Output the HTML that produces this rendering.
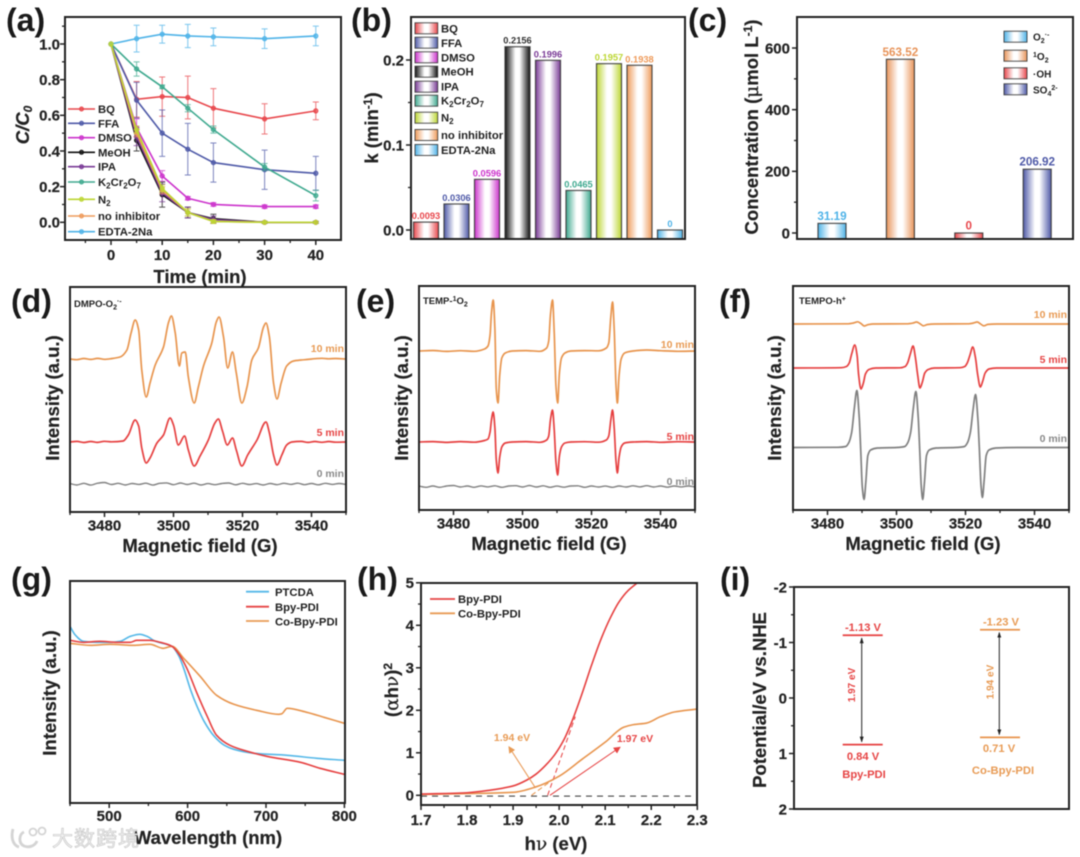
<!DOCTYPE html>
<html lang="en">
<head>
<meta charset="utf-8">
<title>Photocatalysis figure panels a-i</title>
<style>
html,body{margin:0;padding:0;background:#fff}
#figure{display:block;filter:blur(0.45px)}
text{font-family:"Liberation Sans","Noto Sans CJK SC",sans-serif;font-weight:bold;fill:#222}
.pl{font-size:32px;fill:#1a1a1a}
.at{font-size:18.5px;stroke:#222;stroke-width:.2}
.tk{font-size:15px;stroke:#222;stroke-width:.2}
.lg{font-size:11.3px}
.ep{font-size:10.5px}
.bv{font-size:9.3px}
.cv{font-size:11.7px}
.it{font-size:9.5px}
.en{font-size:11.3px}
.sym{font-family:"DejaVu Serif","Liberation Serif",serif;font-weight:normal}
</style>
</head>
<body>
<svg id="figure" xmlns="http://www.w3.org/2000/svg" width="1080" height="857" viewBox="0 0 1080 857">
<defs id="defs">
<marker id="ah-k" markerWidth="6" markerHeight="6" refX="5" refY="3" orient="auto"><path d="M0,1 L6,3 L0,5 Z" fill="#222"/></marker>
<marker id="ah-k-rev" markerWidth="6" markerHeight="6" refX="1" refY="3" orient="auto"><path d="M6,1 L0,3 L6,5 Z" fill="#222"/></marker>
<marker id="ah-o" markerWidth="7" markerHeight="7" refX="6" refY="3.5" orient="auto"><path d="M0,0 L7,3.5 L0,7 Z" fill="#e89b55"/></marker>
<marker id="ah-r" markerWidth="7" markerHeight="7" refX="6" refY="3.5" orient="auto"><path d="M0,0 L7,3.5 L0,7 Z" fill="#e64545"/></marker>
</defs>
<rect width="1080" height="857" fill="#fff"/>

<!-- Panel a -->
<g id="pa">
<text class="pl" x="6" y="31">(a)</text>
<text class="at" transform="translate(29,125) rotate(-90)" text-anchor="middle" font-style="italic">C/C<tspan dy="3" font-size="12">0</tspan></text>
<text class="at" x="200" y="283" text-anchor="middle">Time (min)</text>
</g>
<g id="pa-legend">
<text class="lg" x="98" y="113">BQ</text>
<text class="lg" x="98" y="127.3">FFA</text>
<text class="lg" x="98" y="141.7">DMSO</text>
<text class="lg" x="98" y="156.3">MeOH</text>
<text class="lg" x="98" y="170.7">IPA</text>
<text class="lg" x="98" y="186">K<tspan dy="2.5" font-size="8">2</tspan><tspan dy="-2.5">Cr</tspan><tspan dy="2.5" font-size="8">2</tspan><tspan dy="-2.5">O</tspan><tspan dy="2.5" font-size="8">7</tspan></text>
<text class="lg" x="98" y="203.3">N<tspan dy="2.5" font-size="8">2</tspan></text>
<text class="lg" x="98" y="220">no inhibitor</text>
<text class="lg" x="98" y="235.7">EDTA-2Na</text>
</g>

<!-- Panel b -->
<g id="pb">
<text class="pl" x="351" y="31">(b)</text>
<text class="at" transform="translate(378,128) rotate(-90)" text-anchor="middle">k (min<tspan dy="-6" font-size="12">-1</tspan><tspan dy="6">)</tspan></text>
</g>
<g id="pb-legend">
<text class="lg" x="441" y="32.5">BQ</text>
<text class="lg" x="441" y="47">FFA</text>
<text class="lg" x="441" y="61.3">DMSO</text>
<text class="lg" x="441" y="75.7">MeOH</text>
<text class="lg" x="441" y="90.7">IPA</text>
<text class="lg" x="441" y="104.7">K<tspan dy="2.5" font-size="8">2</tspan><tspan dy="-2.5">Cr</tspan><tspan dy="2.5" font-size="8">2</tspan><tspan dy="-2.5">O</tspan><tspan dy="2.5" font-size="8">7</tspan></text>
<text class="lg" x="441" y="121.7">N<tspan dy="2.5" font-size="8">2</tspan></text>
<text class="lg" x="441" y="139">no inhibitor</text>
<text class="lg" x="441" y="154">EDTA-2Na</text>
</g>

<!-- Panel c -->
<g id="pc">
<text class="pl" x="688" y="31">(c)</text>
<text class="at" transform="translate(758,127) rotate(-90)" text-anchor="middle">Concentration (<tspan class="sym">μ</tspan>mol L<tspan dy="-6" font-size="12">-1</tspan><tspan dy="6">)</tspan></text>
</g>
<g id="pc-legend">
<text font-size="10" x="1033" y="40.5">O<tspan dy="2.5" font-size="7">2</tspan><tspan dy="-6" font-size="7">·-</tspan></text>
<text font-size="10" x="1033" y="60"><tspan dy="-3" font-size="7">1</tspan><tspan dy="3">O</tspan><tspan dy="2.5" font-size="7">2</tspan></text>
<text font-size="10" x="1033" y="77.5">·OH</text>
<text font-size="10" x="1033" y="93.5">SO<tspan dy="2.5" font-size="7">4</tspan><tspan dy="-6" font-size="7">2-</tspan></text>
</g>

<!-- Panel d -->
<g id="pd">
<text class="pl" x="11" y="312">(d)</text>
<text class="at" transform="translate(59,398) rotate(-90)" text-anchor="middle">Intensity (a.u.)</text>
<text class="at" x="200" y="552" text-anchor="middle">Magnetic field (G)</text>
<text class="it" x="74" y="307">DMPO-O<tspan dy="2.5" font-size="7">2</tspan><tspan dy="-6" font-size="7">·-</tspan></text>
<text class="ep" x="344" y="352" text-anchor="end" style="fill:#e89b55">10 min</text>
<text class="ep" x="344" y="436" text-anchor="end" style="fill:#e64545">5 min</text>
<text class="ep" x="344" y="477" text-anchor="end" style="fill:#8a8a8a">0 min</text>
</g>

<!-- Panel e -->
<g id="pe">
<text class="pl" x="356" y="312">(e)</text>
<text class="at" transform="translate(408,398) rotate(-90)" text-anchor="middle">Intensity (a.u.)</text>
<text class="at" x="549" y="550" text-anchor="middle">Magnetic field (G)</text>
<text class="it" x="423" y="304">TEMP-<tspan dy="-3" font-size="7">1</tspan><tspan dy="3">O</tspan><tspan dy="2.5" font-size="7">2</tspan></text>
<text class="ep" x="694" y="348" text-anchor="end" style="fill:#e89b55">10 min</text>
<text class="ep" x="694" y="440" text-anchor="end" style="fill:#e64545">5 min</text>
<text class="ep" x="694" y="485" text-anchor="end" style="fill:#8a8a8a">0 min</text>
</g>

<!-- Panel f -->
<g id="pf">
<text class="pl" x="719" y="312">(f)</text>
<text class="at" transform="translate(781,398) rotate(-90)" text-anchor="middle">Intensity (a.u.)</text>
<text class="at" x="923" y="550" text-anchor="middle">Magnetic field (G)</text>
<text class="it" x="799" y="304">TEMPO-h<tspan dy="-3" font-size="7">+</tspan></text>
<text class="ep" x="1067" y="318" text-anchor="end" style="fill:#e89b55">10 min</text>
<text class="ep" x="1067" y="363" text-anchor="end" style="fill:#e64545">5 min</text>
<text class="ep" x="1067" y="442" text-anchor="end" style="fill:#8a8a8a">0 min</text>
</g>

<!-- Panel g -->
<g id="pg">
<text class="pl" x="11" y="590">(g)</text>
<text class="at" transform="translate(56,693) rotate(-90)" text-anchor="middle">Intensity (a.u.)</text>
<text class="at" x="208" y="844" text-anchor="middle">Wavelength (nm)</text>
<line x1="246" y1="591.7" x2="269" y2="591.7" stroke="#55b8e8" stroke-width="1.8"/>
<line x1="246" y1="606.7" x2="269" y2="606.7" stroke="#e64545" stroke-width="1.8"/>
<line x1="246" y1="621" x2="269" y2="621" stroke="#e89b55" stroke-width="1.8"/>
<text class="en" x="275" y="596">PTCDA</text>
<text class="en" x="275" y="611">Bpy-PDI</text>
<text class="en" x="275" y="625.5">Co-Bpy-PDI</text>
</g>

<!-- Panel h -->
<g id="ph">
<text class="pl" x="357" y="590">(h)</text>
<text class="at" transform="translate(398,690) rotate(-90)" text-anchor="middle">(<tspan class="sym">α</tspan>h<tspan class="sym">ν</tspan>)<tspan dy="-6" font-size="12">2</tspan></text>
<text class="at" x="556" y="850" text-anchor="middle">h<tspan class="sym">ν</tspan> (eV)</text>
<line x1="430" y1="599" x2="455" y2="599" stroke="#e64545" stroke-width="1.8"/>
<line x1="430" y1="613.3" x2="455" y2="613.3" stroke="#e89b55" stroke-width="1.8"/>
<text class="en" x="458" y="603">Bpy-PDI</text>
<text class="en" x="458" y="617.5">Co-Bpy-PDI</text>
<text font-size="10.5" x="512" y="741" text-anchor="middle" style="fill:#e89b55">1.94 eV</text>
<text font-size="10.5" x="635" y="742" text-anchor="middle" style="fill:#e64545">1.97 eV</text>
</g>

<!-- Panel i -->
<g id="pi">
<text class="pl" x="720" y="590">(i)</text>
<text class="at" transform="translate(766,700) rotate(-90)" text-anchor="middle">Potential/eV vs.NHE</text>
<text font-size="11.2" x="863" y="631" text-anchor="middle" style="fill:#e64545">-1.13 V</text>
<text font-size="11.2" x="863" y="760" text-anchor="middle" style="fill:#e64545">0.84 V</text>
<text font-size="11.2" x="864" y="778" text-anchor="middle" style="fill:#e64545">Bpy-PDI</text>
<text font-size="11.2" x="1001" y="625.5" text-anchor="middle" style="fill:#e89b55">-1.23 V</text>
<text font-size="11.2" x="999" y="752" text-anchor="middle" style="fill:#e89b55">0.71 V</text>
<text font-size="11.2" x="1003" y="774" text-anchor="middle" style="fill:#e89b55">Co-Bpy-PDI</text>
<text font-size="10" transform="translate(855,685) rotate(-90)" text-anchor="middle" style="fill:#e64545">1.97 eV</text>
<text font-size="10" transform="translate(993.5,682) rotate(-90)" text-anchor="middle" style="fill:#e89b55">1.94 eV</text>
</g>

<!-- Watermark -->
<g>
<path d="M13,829 C11,836 12,845 19,847 M24,832 C19,834 18,843 24,846 C29,848 35,846 37,841" fill="none" stroke="#d4d4d4" stroke-width="2.8"/>
<circle cx="33" cy="832" r="3.5" fill="none" stroke="#d4d4d4" stroke-width="1.8"/>
<circle cx="42" cy="831" r="3.5" fill="none" stroke="#d4d4d4" stroke-width="1.8"/>
<text x="52" y="846" font-size="21" letter-spacing="1" style="fill:#f2f2f2;font-weight:normal;font-family:'Liberation Sans','Noto Sans CJK SC',sans-serif" stroke="#c4c4c4" stroke-width="0.6">大数跨境</text>
</g>
</svg>

<script>
// ---------- Panel a data ----------
const aTimes = [0, 5, 10, 15, 20, 30, 40];
const aNames = ['bq','ffa','dmso','meoh','ipa','k2cr2o7','no-inhibitor','edta','n2'];
const aBQ   = [1, .69, .705, .70, .64, .58, .625];
const aFFA  = [1, .685, .5, .41, .335, .295, .275];
const aDMSO = [1, .53, .26, .135, .10, .088, .088];
const aMeOH = [1, .46, .155, .055, .02, 0, 0];
const aIPA  = [1, .48, .165, .055, .015, 0, 0];
const aK2   = [1, .86, .76, .64, .52, .31, .15];
const aNone = [1, .50, .18, .055, .005, 0, 0];
const aEDTA = [1, 1.03, 1.055, 1.045, 1.04, 1.03, 1.045];
const aN2   = [1, .52, .19, .055, .005, 0, 0];
const aErrBQ   = [0, .10, .11, .12, .11, .085, .05];
const aErrFFA  = [0, .10, .13, .145, .11, .11, .095];
const aErrDMSO = [0, .05, .03, .01, .01, .01, .01];
const aErrMeOH = [0, .06, .07, .03, .025, .005, .005];
const aErrIPA  = [0, .05, .05, .03, .02, 0, 0];
const aErrK2   = [0, .04, .01, .02, .02, .02, .03];
const aErrNone = [0, .02, .02, .02, .01, 0, 0];
const aErrEDTA = [0, .075, .05, .065, .05, .055, .055];
const aErrN2   = [0, .02, .02, .02, .01, 0, 0];
const aXTicks = [0, 10, 20, 30, 40];
const aXMinor = [-5, 5, 15, 25, 35];
const aYTicks = [0, .2, .4, .6, .8, 1];
const aYMinor = [.1, .3, .5, .7, .9, 1.1];
const aYLabels = ['0.0', '0.2', '0.4', '0.6', '0.8', '1.0'];

// ---------- Panel b data ----------
const bValues = [.0093, .0306, .0596, .2156, .1996, .0465, .1957, .1938, 0];
const bLabels = ['0.0093','0.0306','0.0596','0.2156','0.1996','0.0465','0.1957','0.1938','0'];
const bSeries = ['bq','ffa','dmso','meoh','ipa','k2cr2o7','n2','no-inhibitor','edta'];
const bYTicks = [0, .1, .2];
const bYMinor = [.05, .15];
const bYLabels = ['0.0', '0.1', '0.2'];

// ---------- Panel c data ----------
const cValues = [31.19, 563.52, 0, 206.92];
const cLabels = ['31.19', '563.52', '0', '206.92'];
const cSeries = ['superoxide', 'singlet-oxygen', 'hydroxyl', 'sulfate'];
const cYTicks = [0, 200, 400, 600];
const cYMinor = [100, 300, 500];

// ---------- EPR data ----------
const eprTicks = [3480, 3500, 3520, 3540];
const eprMinor = [3470, 3490, 3510, 3530, 3550];
const d10 = [[3470,0],[3472,-.7],[3474,.5],[3476,-.4],[3478,.6],[3480,-.3],[3482,.4],[3484.5,2],[3486.5,9],[3487.7,26],[3488.9,39],[3489.9,29],[3490.8,-11],[3492.1,-38],[3493.2,-24],[3494.7,-6],[3497.1,12],[3498.6,37],[3499.4,43],[3500.5,26],[3501.7,-7],[3502.4,6],[3503.4,7],[3504.3,-18],[3506,-44],[3507.2,-28],[3508.7,-7],[3511.1,16],[3512.4,37],[3513.2,42],[3514.5,22],[3515.7,-9],[3517.1,7],[3518.2,-14],[3519.8,-44],[3521.3,-28],[3522.7,-1],[3524.6,11],[3526.1,32],[3526.8,36],[3527.8,22],[3529,-24],[3530,-40],[3531.2,-24],[3532.8,-7],[3534.8,-2],[3537,-1],[3539,-.4],[3541,.3],[3543,.7],[3545,.2],[3547,.5],[3549.8,0]];
const d5 = [[3470,0],[3472,.6],[3474,-.5],[3476,.5],[3478,-.4],[3480,.7],[3482,.2],[3485.4,1],[3486.9,7],[3488.9,22],[3489.9,16],[3490.8,-6],[3492.1,-21],[3493.2,-16],[3495.2,-1],[3497.1,7],[3499,24],[3500,17],[3501.4,-3],[3503.2,6],[3504.3,-8],[3506,-24],[3507.7,-14],[3510.1,2],[3512,19],[3513,23],[3514.2,11],[3515.6,-3],[3517.1,4],[3518.2,-8],[3519.8,-24],[3521.5,-13],[3524.2,2],[3526.8,20],[3527.8,9],[3529,-13],[3530,-23],[3531.4,-13],[3532.8,-3],[3534.3,0],[3537,.6],[3539,-.4],[3541,.5],[3543,-.3],[3545,.5],[3547,-.2],[3549.8,0]];
const d0 = [[3470,.5],[3472,-1],[3474,.7],[3476,-1.1],[3478,.8],[3480,1.5],[3482,-.5],[3484,.7],[3486,-1],[3488,.5],[3490,-.4],[3492,.8],[3494,-1.1],[3496,.7],[3498,1.1],[3500,-.7],[3502,1],[3504,-.5],[3506,.8],[3508,-1],[3510,.4],[3512,-.7],[3514,.5],[3516,1],[3518,-.8],[3520,.7],[3522,-.5],[3524,.4],[3526,-1],[3528,.5],[3530,-.7],[3532,.7],[3534,-.4],[3536,.8],[3538,-.7],[3540,.5],[3542,-.8],[3544,.7],[3546,-.4],[3548,.5],[3550,-.5]];
const e10 = [[3470,0],[3474,.5],[3478,-.4],[3482,.3],[3486,-.3],[3489,2],[3490,5],[3490.6,16],[3491,38],[3491.5,51],[3492,22],[3492.4,-38],[3492.9,-52],[3493.4,-24],[3494,-7],[3495,-2],[3497,0],[3501,.4],[3505,-.3],[3507,3],[3507.6,10],[3508.1,36],[3508.7,51],[3509.2,18],[3509.7,-35],[3510.2,-52],[3510.7,-22],[3511.3,-7],[3512.3,-2],[3514,0],[3518,.4],[3522,.2],[3524.3,3],[3525,8],[3525.6,34],[3526.1,49],[3526.6,20],[3527.1,-34],[3527.5,-52],[3528,-24],[3528.6,-8],[3529.6,-2],[3532,0],[3536,1],[3540,.3],[3545,-.3],[3550,0]];
const e5 = [[3470,0],[3474,.4],[3478,-.4],[3482,.4],[3486,-.2],[3489,1.5],[3490,3],[3490.6,10],[3491,22],[3491.5,30],[3492,14],[3492.4,-18],[3492.9,-31],[3493.4,-15],[3494,-5],[3495,-1],[3497,0],[3501,.4],[3505,-.3],[3507,2],[3507.6,6],[3508.1,22],[3508.7,32],[3509.2,12],[3509.7,-20],[3510.2,-33],[3510.7,-14],[3511.3,-5],[3512.3,-1],[3514,0],[3518,.3],[3522,-.2],[3524.3,2],[3525,6],[3525.6,22],[3526.1,32],[3526.6,13],[3527.1,-19],[3527.5,-31],[3528,-15],[3528.6,-5],[3529.6,-1],[3532,0],[3536,.4],[3540,-.3],[3545,.3],[3550,0]];
const e0 = [[3470,.4],[3472,-.8],[3474,.5],[3476,-.8],[3478,.5],[3480,1],[3482,-.5],[3484,.5],[3486,-.8],[3488,.6],[3490,-.4],[3492,.7],[3494,-.8],[3496,.5],[3498,.8],[3500,-.5],[3502,1],[3504,-.5],[3506,.7],[3508,-.8],[3510,.4],[3512,-.7],[3514,.5],[3516,.7],[3518,-.8],[3520,.5],[3522,-.5],[3524,.4],[3526,-.8],[3528,.5],[3530,-.5],[3532,.7],[3534,-.4],[3536,.8],[3538,-.5],[3540,.5],[3542,-.7],[3544,.5],[3546,-.4],[3548,.5],[3550,-.4]];
const f0 = [[3470,0],[3483,.2],[3485.3,1],[3486.2,5],[3487,15],[3487.8,40],[3488.5,57],[3489.2,30],[3489.6,0],[3490.1,-40],[3490.6,-52],[3491.1,-35],[3491.7,-8],[3492.5,-2.5],[3494.5,-.5],[3500,0],[3502.4,1],[3503.3,5],[3504.1,15],[3504.9,40],[3505.6,56],[3506.3,30],[3506.7,0],[3507.2,-40],[3507.6,-52],[3508.1,-35],[3508.7,-8],[3509.5,-2.5],[3511.5,-.5],[3517,0],[3519.7,1],[3520.6,5],[3521.4,15],[3522.2,38],[3522.9,53],[3523.6,28],[3524,0],[3524.5,-38],[3524.9,-50],[3525.4,-33],[3526,-8],[3526.8,-2.5],[3528.8,-.5],[3535,0],[3550,0]];
const f5 = [[3470,0],[3484,.3],[3485.5,1.5],[3486.3,5],[3487,14],[3487.9,23],[3488.6,12],[3489,-6],[3489.7,-21],[3490.4,-15],[3491,-6],[3492,-1.5],[3494,0],[3501,.2],[3502.5,1.5],[3503.2,5],[3504,14],[3504.8,22],[3505.5,10],[3506.1,-6],[3506.8,-20],[3507.5,-14],[3508.2,-5],[3509.2,-1.5],[3511,0],[3518.5,.3],[3519.8,1.5],[3520.5,5],[3521.3,13],[3522.1,21],[3522.9,10],[3523.5,-6],[3524.3,-19],[3525,-13],[3525.7,-5],[3526.8,-1],[3529,0],[3550,0]];
const f10 = [[3470,0],[3486,.2],[3487.5,1],[3488.8,2.2],[3489.7,.5],[3490.7,-2],[3491.6,-.8],[3493,0],[3503,.2],[3504.8,1],[3505.8,2],[3506.8,.3],[3507.8,-1.8],[3509,-.5],[3511,0],[3521,.2],[3522.3,1],[3523.4,2],[3524.3,.2],[3525.3,-1.8],[3526.5,-.4],[3529,0],[3550,0]];
const dOffsets = [153, 70, 28];
const eOffsets = [159, 68, 23.5];
const fOffsets = [186, 142, 62.5];

// ---------- Panel g data ----------
const gPTCDA = [[450,177],[456,169],[467,162],[484,161],[501,161],[514,162],[527,167],[539,169],[548,167],[559,162],[580,157],[589,147],[595,135],[604,113],[612,97],[621,82],[634,67],[647,58],[659,54],[685,50],[727,48],[765,45],[800,43]];
const gBpy = [[450,163],[467,161],[488,162],[510,161],[527,161],[535,163],[552,163],[565,161],[580,157],[590,148],[599,135],[612,110],[625,87],[637,68],[654,58],[676,52],[701,47],[744,41],[769,35],[800,29]];
const gCo = [[450,160],[476,158],[501,159],[531,158],[552,159],[569,155],[580,157],[595,145],[616,127],[637,108],[659,99],[688,93],[716,89],[720,89.5],[727,95],[752,91],[774,86],[800,80]];
const gXTicks = [500, 600, 700, 800];
const gXMinor = [450, 550, 650, 750];

// ---------- Panel h data ----------
const hBpy = [[1.7,.03],[1.8,.06],[1.85,.12],[1.9,.22],[1.93,.36],[1.95,.5],[1.97,.7],[1.99,.95],[2.01,1.3],[2.03,1.8],[2.05,2.4],[2.07,3.05],[2.09,3.65],[2.11,4.15],[2.13,4.55],[2.15,4.82],[2.17,5]];
const hCo = [[1.7,.02],[1.8,.04],[1.9,.07],[1.95,.2],[2,.45],[2.05,.85],[2.1,1.25],[2.14,1.6],[2.16,1.66],[2.19,1.7],[2.22,1.85],[2.25,1.96],[2.3,2.03]];
const hXTicks = [1.7, 1.8, 1.9, 2, 2.1, 2.2, 2.3];
const hXLabels = ['1.7','1.8','1.9','2.0','2.1','2.2','2.3'];
const hXMinor = [1.75, 1.85, 1.95, 2.05, 2.15, 2.25];
const hYTicks = [0, 1, 2, 3, 4, 5];
const hYMinor = [.5, 1.5, 2.5, 3.5, 4.5];
const hBgBpy = [1.975, 2.035];
const hBgBpyVal = [0, 1.85];
const hBgCo = [1.94, 1.99];
const hBgCoVal = [0, .4];

// ---------- Panel i data ----------
const iYTicks = [-2, -1, 0, 1, 2];
const iYMinor = [-1.5, -.5, .5, 1.5];
const iBpyLevels = [-1.13, .84];
const iCoLevels = [-1.23, .71];

// ---------- Colours ----------
const seriesColor = {bq:'#e8474c',ffa:'#4f5aa8',dmso:'#cc33cc',meoh:'#111111',ipa:'#7a3b96','k2cr2o7':'#3fa98f',n2:'#bcd633','no-inhibitor':'#ee9a5a',edta:'#4fb3e8',superoxide:'#4fb3e8','singlet-oxygen':'#e8945a',hydroxyl:'#e8474c',sulfate:'#4f5aa8'};
const ORANGE = '#e8954e', RED = '#e64040', GRAY = '#808080', BLUE = '#55b8e8';

// ---------- Helpers ----------
const NS = 'http://www.w3.org/2000/svg';
const svg = document.getElementById('figure');
function make(parent, tag, attrs, name) {
  const el = document.createElementNS(NS, tag);
  for (const k in attrs) el.setAttribute(k, attrs[k]);
  
  
  parent.appendChild(el);
  return el;
}
function label(parent, x, y, str, anchor, cls, fill, name) {
  const t = make(parent, 'text', {x: x, y: y, 'text-anchor': anchor, class: cls}, name);
  if (fill) t.style.fill = fill;
  t.textContent = str;
  return t;
}
function monoPath(pts) {
  const n = pts.length, dx = [], m = [], t = [];
  for (let i = 0; i < n - 1; i++) {
    dx[i] = pts[i + 1][0] - pts[i][0];
    m[i] = (pts[i + 1][1] - pts[i][1]) / dx[i];
  }
  t[0] = m[0];
  t[n - 1] = m[n - 2];
  for (let i = 1; i < n - 1; i++) {
    t[i] = m[i - 1] * m[i] <= 0 ? 0 : 3 * (dx[i - 1] + dx[i]) / ((2 * dx[i] + dx[i - 1]) / m[i - 1] + (dx[i] + 2 * dx[i - 1]) / m[i]);
  }
  let d = 'M' + pts[0][0].toFixed(2) + ',' + pts[0][1].toFixed(2);
  for (let i = 0; i < n - 1; i++) {
    const h = dx[i] / 3;
    d += 'C' + (pts[i][0] + h).toFixed(2) + ',' + (pts[i][1] + t[i] * h).toFixed(2) + ' ' +
         (pts[i + 1][0] - h).toFixed(2) + ',' + (pts[i + 1][1] - t[i + 1] * h).toFixed(2) + ' ' +
         pts[i + 1][0].toFixed(2) + ',' + pts[i + 1][1].toFixed(2);
  }
  return d;
}
function curve(parent, data, xf, yf, color, width, name) {
  const pts = data.map(p => [xf(p[0]), yf(p[1])]);
  make(parent, 'path', {d: monoPath(pts), fill: 'none', stroke: color, 'stroke-width': width, 'stroke-linejoin': 'round'}, name);
}
function frame(parent, l, t, r, b, name) {
  make(parent, 'rect', {x: l, y: t, width: r - l, height: b - t, fill: 'none', stroke: '#222', 'stroke-width': 2}, name);
}
function xAxis(parent, b, xf, majors, minors, labels, base, pid) {
  majors.forEach((v, i) => {
    make(parent, 'line', {x1: xf(v), x2: xf(v), y1: b, y2: b + 5, stroke: '#222', 'stroke-width': 1.5}, 'x-tick-' + pid);
    label(parent, xf(v), base, labels[i], 'middle', 'tk', null, 'x-tick-label-' + pid);
  });
  minors.forEach(v => {
    make(parent, 'line', {x1: xf(v), x2: xf(v), y1: b, y2: b + 3, stroke: '#222', 'stroke-width': 1.3}, 'x-minor-tick-' + pid);
  });
}
function yAxis(parent, l, yf, majors, minors, labels, right, pid) {
  majors.forEach((v, i) => {
    make(parent, 'line', {x1: l - 5, x2: l, y1: yf(v), y2: yf(v), stroke: '#222', 'stroke-width': 1.5}, 'y-tick-' + pid);
    label(parent, right, yf(v) + 5.3, labels[i], 'end', 'tk', null, 'y-tick-label-' + pid);
  });
  minors.forEach(v => {
    make(parent, 'line', {x1: l - 3, x2: l, y1: yf(v), y2: yf(v), stroke: '#222', 'stroke-width': 1.3}, 'y-minor-tick-' + pid);
  });
}
// Bar gradients
const defs = document.getElementById('defs');
Object.keys(seriesColor).forEach(k => {
  const g = document.createElementNS(NS, 'linearGradient');
  g.setAttribute('id', 'grad-' + k);
  [[0, seriesColor[k]], [.42, '#ffffff'], [.58, '#ffffff'], [1, seriesColor[k]]].forEach(s => {
    const st = document.createElementNS(NS, 'stop');
    st.setAttribute('offset', s[0]);
    st.setAttribute('stop-color', s[1]);
    g.appendChild(st);
  });
  defs.appendChild(g);
});
function bar(parent, cx, w, top, bottom, key, name) {
  make(parent, 'rect', {x: cx - w / 2, y: top, width: w, height: bottom - top, fill: 'url(#grad-' + key + ')', stroke: '#333', 'stroke-width': 1.2, 'stroke-opacity': .85}, name);
}

// ---------- Panel a ----------
(function () {
  const p = document.getElementById('pa');
  const x = v => 111 + v * 5.12, y = v => 222.3 - v * 178.3;
  const all = [[aBQ, aErrBQ], [aFFA, aErrFFA], [aDMSO, aErrDMSO], [aMeOH, aErrMeOH], [aIPA, aErrIPA], [aK2, aErrK2], [aNone, aErrNone], [aEDTA, aErrEDTA], [aN2, aErrN2]];
  all.forEach((pair, s) => {
    const key = aNames[s], c = seriesColor[key];
    const g = make(p, 'g', {}, 'series-' + key);
    pair[0].forEach((v, i) => {
      if (!pair[1][i]) return;
      const hi = y(v + pair[1][i]), lo = y(v - pair[1][i]);
      make(g, 'path', {d: 'M' + x(aTimes[i]) + ',' + hi + 'V' + lo + 'M' + (x(aTimes[i]) - 3) + ',' + hi + 'h6M' + (x(aTimes[i]) - 3) + ',' + lo + 'h6', fill: 'none', stroke: c, 'stroke-width': 1, 'stroke-opacity': .75}, 'error-bar-' + key);
    });
    make(g, 'polyline', {points: pair[0].map((v, i) => x(aTimes[i]) + ',' + y(v)).join(' '), fill: 'none', stroke: c, 'stroke-width': 1.6}, 'line-' + key);
    pair[0].forEach((v, i) => {
      make(g, 'circle', {cx: x(aTimes[i]), cy: y(v), r: 2.1, fill: c, 'fill-opacity': .7, stroke: c, 'stroke-width': 1}, 'point-' + key);
    });
  });
  xAxis(p, 240, x, aXTicks, aXMinor, aXTicks.map(String), 260, 'a');
  yAxis(p, 65, y, aYTicks, aYMinor, aYLabels, 60, 'a');
  frame(p, 65, 17, 341, 240, 'plot-frame-a');
  const lg = document.getElementById('pa-legend');
  const legendOrder = ['bq','ffa','dmso','meoh','ipa','k2cr2o7','n2','no-inhibitor','edta'];
  const legendBase = [113, 127.3, 141.7, 156.3, 170.7, 186, 203.3, 220, 235.7];
  legendOrder.forEach((k, i) => {
    make(lg, 'line', {x1: 68, x2: 95, y1: legendBase[i] - 4, y2: legendBase[i] - 4, stroke: seriesColor[k], 'stroke-width': 1.6}, 'legend-line-' + k);
    make(lg, 'circle', {cx: 81.5, cy: legendBase[i] - 4, r: 2, fill: seriesColor[k], 'fill-opacity': .7, stroke: seriesColor[k]}, 'legend-marker-' + k);
  });
})();

// ---------- Panel b ----------
(function () {
  const p = document.getElementById('pb');
  const y = v => 230 - v * 850, cx = i => 426 + i * 30.5;
  bValues.forEach((v, i) => {
    const k = bSeries[i];
    bar(p, cx(i), 25, y(v), 239, k, 'bar-' + k);
    label(p, cx(i), y(v) - 3, bLabels[i], 'middle', 'bv', k === 'meoh' ? '#333' : seriesColor[k], 'bar-value-' + k);
  });
  yAxis(p, 411, y, bYTicks, bYMinor, bYLabels, 404, 'b');
  frame(p, 411, 17, 685, 239, 'plot-frame-b');
  const lg = document.getElementById('pb-legend');
  const centers = [28.3, 42.7, 57.3, 71.7, 86.7, 100.7, 117.7, 135, 150];
  const order = ['bq','ffa','dmso','meoh','ipa','k2cr2o7','n2','no-inhibitor','edta'];
  order.forEach((k, i) => {
    make(lg, 'rect', {x: 415, y: centers[i] - 5.5, width: 22.7, height: 11, fill: 'url(#grad-' + k + ')', stroke: '#333', 'stroke-width': 1, 'stroke-opacity': .85}, 'legend-swatch-' + k);
  });
})();

// ---------- Panel c ----------
(function () {
  const p = document.getElementById('pc');
  const y = v => 233 - v * .3083, cx = i => 832 + i * 68.4;
  cValues.forEach((v, i) => {
    const k = cSeries[i];
    bar(p, cx(i), 28, y(v), 239, k, 'bar-' + k);
    label(p, cx(i), y(v) - 3.5, cLabels[i], 'middle', 'cv', seriesColor[k], 'bar-value-' + k);
  });
  yAxis(p, 797, y, cYTicks, cYMinor, cYTicks.map(String), 790, 'c');
  frame(p, 797, 17, 1073, 239, 'plot-frame-c');
  const lg = document.getElementById('pc-legend');
  const centers = [36.7, 55.7, 73.3, 89.3];
  cSeries.forEach((k, i) => {
    make(lg, 'rect', {x: 1004, y: centers[i] - 5.5, width: 23, height: 11, fill: 'url(#grad-' + k + ')', stroke: '#333', 'stroke-width': 1, 'stroke-opacity': .85}, 'legend-swatch-' + k);
  });
})();

// ---------- Panels d, e, f ----------
function epr(pid, left, bottom, top, offsets, series) {
  const p = document.getElementById('p' + pid);
  const x = g => left + (g - 3470) * 3.45;
  const colors = [ORANGE, RED, GRAY], names = ['10min', '5min', '0min'];
  series.forEach((s, i) => {
    const y = v => bottom - (offsets[i] + v);
    curve(p, s, x, y, colors[i], i === 2 && pid !== 'f' ? 1.4 : 1.7, 'trace-' + pid + '-' + names[i]);
  });
  xAxis(p, bottom, x, eprTicks, eprMinor, eprTicks.map(String), bottom + 18.5, pid);
  frame(p, left, top, left + 276, bottom, 'plot-frame-' + pid);
}
epr('d', 70, 512, 287, dOffsets, [d10, d5, d0]);
epr('e', 419, 510, 286, eOffsets, [e10, e5, e0]);
epr('f', 793, 510, 286, fOffsets, [f10, f5, f0]);

// ---------- Panel g ----------
(function () {
  const p = document.getElementById('pg');
  const x = n => 70 + (n - 450) * .784, y = v => 803.3 - v;
  curve(p, gPTCDA, x, y, BLUE, 1.6, 'curve-ptcda');
  curve(p, gCo, x, y, ORANGE, 1.6, 'curve-co-bpy-pdi');
  curve(p, gBpy, x, y, RED, 1.6, 'curve-bpy-pdi');
  xAxis(p, 803, x, gXTicks, gXMinor, gXTicks.map(String), 821, 'g');
  frame(p, 70, 581, 345, 803, 'plot-frame-g');
})();

// ---------- Panel h ----------
(function () {
  const p = document.getElementById('ph');
  const x = v => 421 + (v - 1.7) * 460.5, y = v => 795.3 - v * 42.5;
  make(p, 'line', {x1: x(1.7), x2: x(2.3), y1: y(-.02), y2: y(-.02), stroke: '#333', 'stroke-width': 1, 'stroke-dasharray': '6 5'}, 'zero-baseline');
  curve(p, hCo, x, y, ORANGE, 1.6, 'curve-h-co-bpy-pdi');
  curve(p, hBpy, x, y, RED, 1.6, 'curve-h-bpy-pdi');
  make(p, 'line', {x1: x(hBgBpy[0]), y1: y(hBgBpyVal[0]), x2: x(hBgBpy[1]), y2: y(hBgBpyVal[1]), stroke: RED, 'stroke-width': 1, 'stroke-dasharray': '5 3'}, 'tangent-bpy-pdi');
  make(p, 'line', {x1: x(hBgCo[0]), y1: y(hBgCoVal[0]), x2: x(hBgCo[1]), y2: y(hBgCoVal[1]), stroke: ORANGE, 'stroke-width': 1, 'stroke-dasharray': '5 3'}, 'tangent-co-bpy-pdi');
  make(p, 'line', {x1: x(1.947), y1: y(.2), x2: x(1.891), y2: y(1.14), stroke: ORANGE, 'stroke-width': 1, 'marker-end': 'url(#ah-o)'}, 'arrow-1-94-ev');
  make(p, 'line', {x1: x(1.98), y1: y(0), x2: x(2.132), y2: y(1.13), stroke: RED, 'stroke-width': 1, 'marker-end': 'url(#ah-r)'}, 'arrow-1-97-ev');
  xAxis(p, 805, x, hXTicks, hXMinor, hXLabels, 825, 'h');
  yAxis(p, 421, y, hYTicks, hYMinor, hYTicks.map(String), 414, 'h');
  frame(p, 421, 583, 697, 805, 'plot-frame-h');
})();

// ---------- Panel i ----------
(function () {
  const p = document.getElementById('pi');
  const y = v => 698 + v * 55.5;
  make(p, 'line', {x1: 842.7, x2: 882.7, y1: y(iBpyLevels[0]), y2: y(iBpyLevels[0]), stroke: RED, 'stroke-width': 1.8}, 'cb-level-bpy-pdi');
  make(p, 'line', {x1: 842.7, x2: 882.7, y1: y(iBpyLevels[1]), y2: y(iBpyLevels[1]), stroke: RED, 'stroke-width': 1.8}, 'vb-level-bpy-pdi');
  make(p, 'line', {x1: 980, x2: 1020, y1: y(iCoLevels[0]), y2: y(iCoLevels[0]), stroke: ORANGE, 'stroke-width': 1.8}, 'cb-level-co-bpy-pdi');
  make(p, 'line', {x1: 980, x2: 1020, y1: y(iCoLevels[1]), y2: y(iCoLevels[1]), stroke: ORANGE, 'stroke-width': 1.8}, 'vb-level-co-bpy-pdi');
  make(p, 'line', {x1: 861.7, x2: 861.7, y1: y(iBpyLevels[0]) + 3, y2: y(iBpyLevels[1]) - 3, stroke: '#222', 'stroke-width': 1, 'marker-start': 'url(#ah-k-rev)', 'marker-end': 'url(#ah-k)'}, 'gap-arrow-bpy-pdi');
  make(p, 'line', {x1: 999.3, x2: 999.3, y1: y(iCoLevels[0]) + 3, y2: y(iCoLevels[1]) - 3, stroke: '#222', 'stroke-width': 1, 'marker-start': 'url(#ah-k-rev)', 'marker-end': 'url(#ah-k)'}, 'gap-arrow-co-bpy-pdi');
  yAxis(p, 794, y, iYTicks, iYMinor, iYTicks.map(String), 787, 'i');
  frame(p, 794, 587, 1069, 809, 'plot-frame-i');
})();
</script>
</body>
</html>
